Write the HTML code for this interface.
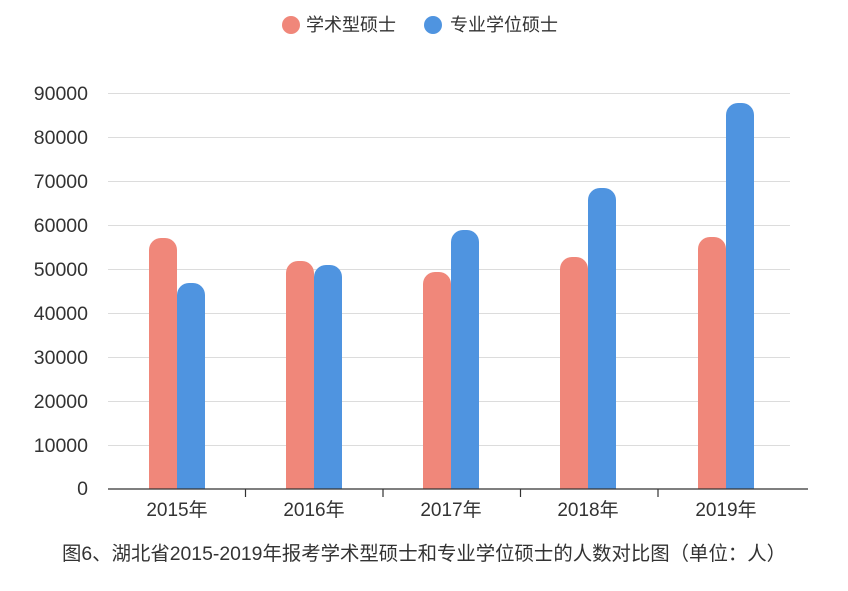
<!DOCTYPE html>
<html><head><meta charset="utf-8"><style>
body{margin:0;background:#fff;}
svg text{font-family:"Liberation Sans","Noto Sans CJK SC",sans-serif;}
</style></head><body>
<svg width="848" height="586" xmlns="http://www.w3.org/2000/svg">
<g stroke="#dcdcdc" stroke-width="1">
<line x1="108" y1="93.5" x2="790" y2="93.5"/>
<line x1="108" y1="137.5" x2="790" y2="137.5"/>
<line x1="108" y1="181.5" x2="790" y2="181.5"/>
<line x1="108" y1="225.5" x2="790" y2="225.5"/>
<line x1="108" y1="269.5" x2="790" y2="269.5"/>
<line x1="108" y1="313.5" x2="790" y2="313.5"/>
<line x1="108" y1="357.5" x2="790" y2="357.5"/>
<line x1="108" y1="401.5" x2="790" y2="401.5"/>
<line x1="108" y1="445.5" x2="790" y2="445.5"/>
</g>
<g font-size="19.5" fill="#333" text-anchor="end">
<text x="88" y="100">90000</text>
<text x="88" y="144">80000</text>
<text x="88" y="188">70000</text>
<text x="88" y="232">60000</text>
<text x="88" y="276">50000</text>
<text x="88" y="320">40000</text>
<text x="88" y="364">30000</text>
<text x="88" y="408">20000</text>
<text x="88" y="452">10000</text>
<text x="88" y="495">0</text>
</g>
<g fill="#f0877a">
<path d="M149 489V250a12 12 0 0 1 12-12h4a12 12 0 0 1 12 12V489z"/>
<path d="M286 489V273a12 12 0 0 1 12-12h4a12 12 0 0 1 12 12V489z"/>
<path d="M423 489V284a12 12 0 0 1 12-12h4a12 12 0 0 1 12 12V489z"/>
<path d="M560 489V269a12 12 0 0 1 12-12h4a12 12 0 0 1 12 12V489z"/>
<path d="M698 489V249a12 12 0 0 1 12-12h4a12 12 0 0 1 12 12V489z"/>
</g>
<g fill="#4f94e0">
<path d="M177 489V295a12 12 0 0 1 12-12h4a12 12 0 0 1 12 12V489z"/>
<path d="M314 489V277a12 12 0 0 1 12-12h4a12 12 0 0 1 12 12V489z"/>
<path d="M451 489V242a12 12 0 0 1 12-12h4a12 12 0 0 1 12 12V489z"/>
<path d="M588 489V200a12 12 0 0 1 12-12h4a12 12 0 0 1 12 12V489z"/>
<path d="M726 489V115a12 12 0 0 1 12-12h4a12 12 0 0 1 12 12V489z"/>
</g>
<g stroke="#333" stroke-width="1.2">
<line x1="108" y1="489" x2="808" y2="489"/>
<line x1="245.5" y1="489" x2="245.5" y2="497"/>
<line x1="383" y1="489" x2="383" y2="497"/>
<line x1="520.5" y1="489" x2="520.5" y2="497"/>
<line x1="658" y1="489" x2="658" y2="497"/>
</g>
<g font-size="19" fill="#333" text-anchor="middle">
<text x="177" y="516">2015年</text>
<text x="314" y="516">2016年</text>
<text x="451" y="516">2017年</text>
<text x="588" y="516">2018年</text>
<text x="726" y="516">2019年</text>
</g>
<circle cx="291" cy="25" r="9" fill="#f0877a"/>
<text x="306" y="31" font-size="18" fill="#333">学术型硕士</text>
<circle cx="433" cy="25" r="9" fill="#4f94e0"/>
<text x="450" y="31" font-size="18" fill="#333">专业学位硕士</text>
<text x="62" y="560" font-size="19.4" fill="#333">图6、湖北省2015-2019年报考学术型硕士和专业学位硕士的人数对比图（单位：人）</text>
</svg>
</body></html>
